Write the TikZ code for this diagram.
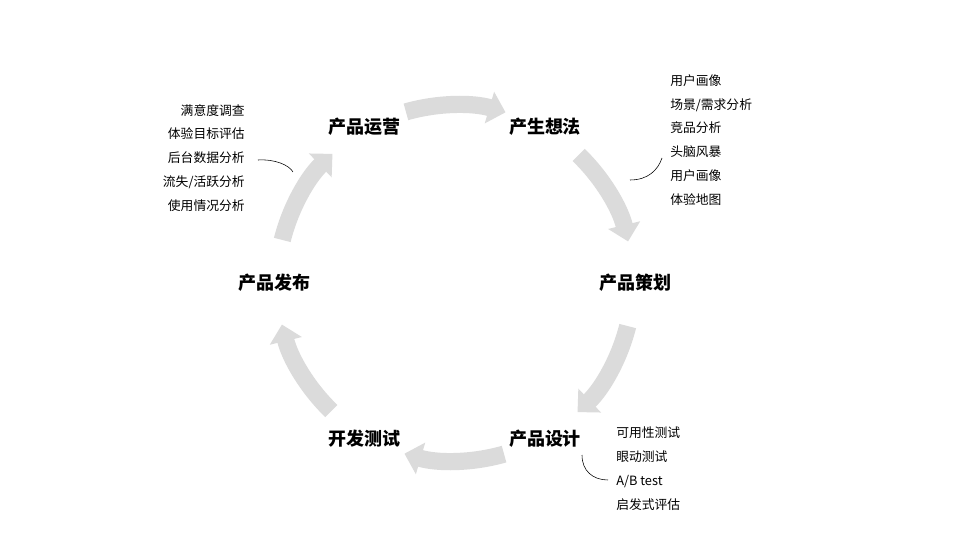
\documentclass[tikz,border=0pt]{standalone}
\usepackage{fontspec}
\setmainfont{Noto Sans CJK SC}
\usetikzlibrary{arrows.meta}
\tikzset{
  stage/.style={font=\fontsize{12.8}{14}\selectfont\bfseries},
  notes/.style={font=\fontsize{9.1}{17}\selectfont, inner sep=0pt},
  flow/.style={line width=0.43cm, gray!28, -{Triangle[length=0.42cm,width=0.8cm]}},
  hook/.style={thin, black},
}
\begin{document}
\begin{tikzpicture}[x=0.025cm, y=0.025cm]
  \useasboundingbox (-455,-257) rectangle (505,283);
  % Stages on the circle
  \foreach \n/\a/\t in {ops/120/产品运营, idea/60/产生想法, plan/0/产品策划,
                        design/-60/产品设计, dev/-120/开发测试, release/180/产品发布} {
    \node[stage] (\n) at (\a:180) {\t};
  }
  % Flow arrows between stages
  \foreach \a in {90,30,-30,-90,-150,150} {
    \draw[flow] ({\a+16}:178) arc[start angle={\a+16}, end angle={\a-16.5}, radius=178];
  }
  % Notes
  \node[notes, anchor=east, align=right] (opsnotes) at (-210,125)
    {满意度调查\\体验目标评估\\后台数据分析\\流失/活跃分析\\使用情况分析};
  \node[notes, anchor=west, align=left] (ideanotes) at (215,143)
    {用户画像\\场景/需求分析\\竞品分析\\头脑风暴\\用户画像\\体验地图};
  \node[notes, anchor=west, align=left] (designnotes) at (161,-186)
    {可用性测试\\眼动测试\\A/B test\\启发式评估};
  % Hooks from notes to stages
  \coordinate (h1a) at (-197,123);
  \coordinate (h1b) at (-162,111);
  \coordinate (h2a) at (175,103);
  \coordinate (h2b) at (207,125);
  \coordinate (h3a) at (127,-172);
  \coordinate (h3b) at (153,-197);
  \draw[hook] (h1a) .. controls (-180,124) and (-166,118) .. (h1b);
  \draw[hook] (h2a) .. controls (193,103) and (203,113) .. (h2b);
  \draw[hook] (h3a) .. controls (127,-188) and (138,-197) .. (h3b);
\end{tikzpicture}
\end{document}
